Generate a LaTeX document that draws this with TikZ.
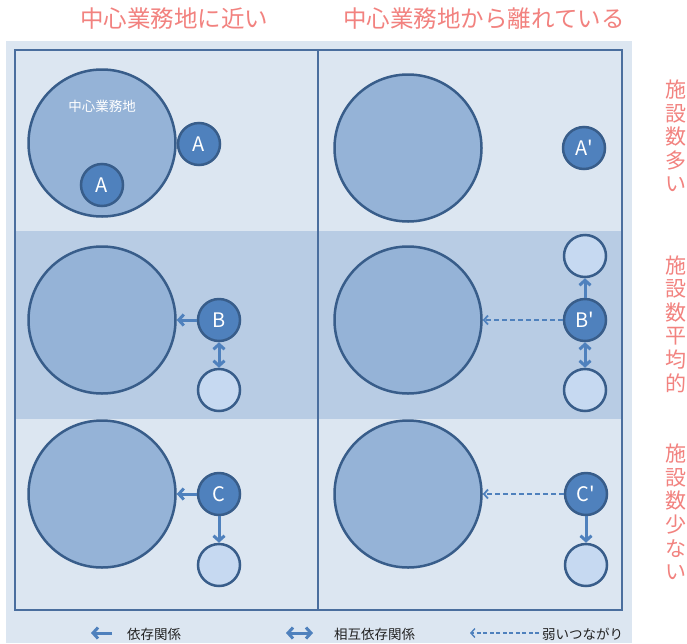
\documentclass[tikz,border=0pt]{standalone}
\usepackage{fontspec}
\setmainfont{Noto Sans CJK JP}
\usetikzlibrary{arrows.meta}
\definecolor{bglight}{HTML}{DCE6F1}
\definecolor{bandc}{HTML}{B8CCE4}
\definecolor{framec}{HTML}{4A6E9E}
\definecolor{outl}{HTML}{385D8A}
\definecolor{bigfill}{HTML}{95B3D7}
\definecolor{darkfill}{HTML}{4F81BD}
\definecolor{lightfill}{HTML}{C6D9F1}
\definecolor{arrowc}{HTML}{4F81BD}
\definecolor{pinkc}{HTML}{F2827F}
\definecolor{legc}{HTML}{222222}
\tikzset{
  bigcirc/.style={circle, draw=outl, line width=2.5pt, fill=bigfill, minimum size=147pt, inner sep=0pt},
  dotc/.style={circle, draw=outl, line width=2.5pt, fill=darkfill, minimum size=42pt, inner sep=0pt, text=white, font=\fontsize{20}{20}\selectfont},
  litec/.style={circle, draw=outl, line width=2.5pt, fill=lightfill, minimum size=42pt, inner sep=0pt},
  dep/.style={draw=arrowc, line width=3pt, -{Straight Barb[length=5pt,width=11pt]}},
  mutual/.style={draw=arrowc, line width=3pt, {Straight Barb[length=5pt,width=11pt]}-{Straight Barb[length=5pt,width=11pt]}},
  weak/.style={draw=arrowc, line width=1.8pt, dash pattern=on 5pt off 3pt, -{Straight Barb[length=4pt,width=9pt]}},
  header/.style={text=pinkc, font=\fontsize{23.5}{25}\selectfont},
  side/.style={text=pinkc, align=center, font=\fontsize{21}{23.6}\selectfont},
  legtext/.style={text=legc, font=\fontsize{13.5}{14}\selectfont, anchor=west, inner sep=0pt},
  framel/.style={draw=framec, line width=1.3pt}
}
\begin{document}
\begin{tikzpicture}[x=1pt,y=-1pt]
\useasboundingbox (0,0) rectangle (687,643);
\fill[white] (0,0) rectangle (687,643);
\fill[bglight] (6,41) rectangle (632,643);
\fill[bandc] (15,231) rectangle (622,419);
\draw[framel] (15,50) rectangle (622,610);
\draw[framel] (318,50) -- (318,610);

% headers
\node[header] (h1) at (174,19) {中心業務地に近い};
\node[header] (h2) at (484,19) {中心業務地から離れている};

% side labels
\node[side] (s1) at (676,136) {施\\設\\数\\多\\い};
\node[side] (s2) at (676,324) {施\\設\\数\\平\\均\\的};
\node[side] (s3) at (676,512) {施\\設\\数\\少\\な\\い};

% row 1
\node[bigcirc] (c1) at (102,143) {};
\node[text=white, font=\fontsize{13.5}{14}\selectfont] (cbd) at (102,106) {中心業務地};
\node[dotc] (a1) at (199,144) {A};
\node[dotc] (a2) at (102,185) {A};
\node[bigcirc] (c2) at (408,148) {};
\node[dotc] (a3) at (584,148) {A\textquotesingle};

% row 2
\node[bigcirc] (c3) at (102,320) {};
\node[dotc] (b1) at (219,320) {B};
\node[litec] (b1l) at (219,390) {};
\node[bigcirc] (c4) at (408,320) {};
\node[dotc] (b2) at (585,320) {B\textquotesingle};
\node[litec] (b2u) at (585,256) {};
\node[litec] (b2l) at (585,390) {};

% row 3
\node[bigcirc] (c5) at (102,494) {};
\node[dotc] (c1n) at (219,494) {C};
\node[litec] (c1l) at (219,565) {};
\node[bigcirc] (c6) at (408,494) {};
\node[dotc] (c2n) at (586,494) {C\textquotesingle};
\node[litec] (c2l) at (586,565) {};

% connectors
\draw[dep] (b1.west) -- (c3.east);
\draw[mutual] (b1.south) -- (b1l.north);
\draw[weak] (b2.west) -- (c4.east);
\draw[dep] (b2.north) -- (b2u.south);
\draw[mutual] (b2.south) -- (b2l.north);
\draw[dep] (c1n.west) -- (c5.east);
\draw[dep] (c1n.south) -- (c1l.north);
\draw[weak] (c2n.west) -- (c6.east);
\draw[dep] (c2n.south) -- (c2l.north);

% legend
\coordinate (l1a) at (112,633);
\coordinate (l1b) at (91,633);
\node[legtext] (lt1) at (127,634) {依存関係};
\coordinate (l2a) at (286,633);
\coordinate (l2b) at (313,633);
\node[legtext] (lt2) at (334,634) {相互依存関係};
\coordinate (l3a) at (539,633);
\coordinate (l3b) at (470,633);
\node[legtext] (lt3) at (542,634) {弱いつながり};
\draw[dep] (l1a) -- (l1b);
\draw[mutual] (l2a) -- (l2b);
\draw[weak, line width=1.4pt, dash pattern=on 4pt off 2.5pt] (l3a) -- (l3b);
\end{tikzpicture}
\end{document}
